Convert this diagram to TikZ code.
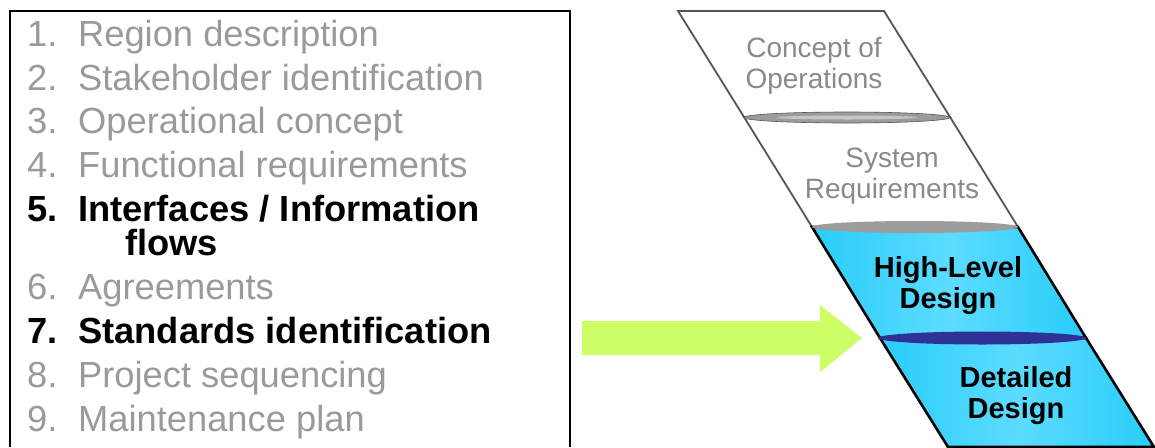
\documentclass[tikz,border=0pt]{standalone}
\usepackage{fontspec}
\setmainfont{Liberation Sans}
\definecolor{itemgray}{HTML}{9A9A9A}
\definecolor{labgray}{HTML}{8A8A8A}
\definecolor{panelline}{HTML}{555555}
\definecolor{bluefill}{HTML}{29CCFA}
\definecolor{bluelight}{HTML}{5CDCFF}
\definecolor{darkblue}{HTML}{2E3296}
\definecolor{arrowgreen}{HTML}{CCFF66}
\definecolor{sepgray}{HTML}{9C9C9C}
\begin{document}
\begin{tikzpicture}[x=1pt,y=-1pt,
  item/.style={anchor=base west,inner sep=0pt,font=\fontsize{36.3}{40}\selectfont},
  dim/.style={item,text=itemgray},
  hot/.style={item,text=black,font=\fontsize{36.3}{40}\selectfont\bfseries},
  lab/.style={anchor=base,inner sep=0pt,align=center,font=\fontsize{28}{30.5}\selectfont,text=labgray},
  blab/.style={anchor=base,inner sep=0pt,align=center,font=\fontsize{29}{30.5}\selectfont\bfseries,text=black},
  whitepanel/.style={fill=white,draw=panelline,line width=1.8pt},
  bluepanel/.style={left color=bluefill,right color=bluefill,middle color=bluelight,draw=black,line width=2.6pt}]
\useasboundingbox (0,0) rectangle (1155,447);
% list box
\draw[line width=1.6pt] (10,447) -- (10,11) -- (570,11) -- (570,447);
\newcommand{\num}[1]{\makebox[51pt][l]{#1}}
\node[dim] (i1) at (27,46.5) {\num{1.}Region description};
\node[dim] (i2) at (27,90) {\num{2.}Stakeholder identification};
\node[dim] (i3) at (27,133.5) {\num{3.}Operational concept};
\node[dim] (i4) at (27,177) {\num{4.}Functional requirements};
\node[hot] (i5) at (27,221) {\num{5.}Interfaces / Information};
\node[hot] (i5b) at (125,255) {flows};
\node[dim] (i6) at (27,299) {\num{6.}Agreements};
\node[hot] (i7) at (27,343) {\num{7.}Standards identification};
\node[dim] (i8) at (27,387) {\num{8.}Project sequencing};
\node[dim] (i9) at (27,431) {\num{9.}Maintenance plan};
% arrow
\fill[arrowgreen] (582,321) -- (820,321) -- (820,305) -- (862,338) -- (820,372) -- (820,355) -- (582,355) -- cycle;
% panels (left edge x = 678 + 0.62 (y-11), width 206)
\path[whitepanel] (678,11) -- (884,11) -- (950,117) -- (744,117) -- cycle;
\path[whitepanel] (744,117) -- (950,117) -- (1018,227) -- (812,227) -- cycle;
\path[bluepanel] (812,227) -- (1018,227) -- (1086,338) -- (880,338) -- cycle;
\path[bluepanel] (880,338) -- (1086,338) -- (1154,447) -- (948,447) -- cycle;
% separators
\fill[sepgray,draw=panelline,line width=0.6pt] (847,117.5) ellipse [x radius=103,y radius=5.5];
\fill[gray!45] (847,117.5) ellipse [x radius=70,y radius=2];
\fill[sepgray] (915,227) ellipse [x radius=103,y radius=6];
\fill[darkblue] (982,338) ellipse [x radius=104,y radius=6.5];
% labels (base anchor = last line)
\node[lab] (c1) at (814,88) {Concept of\\Operations};
\node[lab] (c2) at (892,198) {System\\Requirements};
\node[blab] (c3) at (948,308) {High-Level\\Design};
\node[blab] (c4) at (1016,418) {Detailed\\Design};
\end{tikzpicture}
\end{document}
